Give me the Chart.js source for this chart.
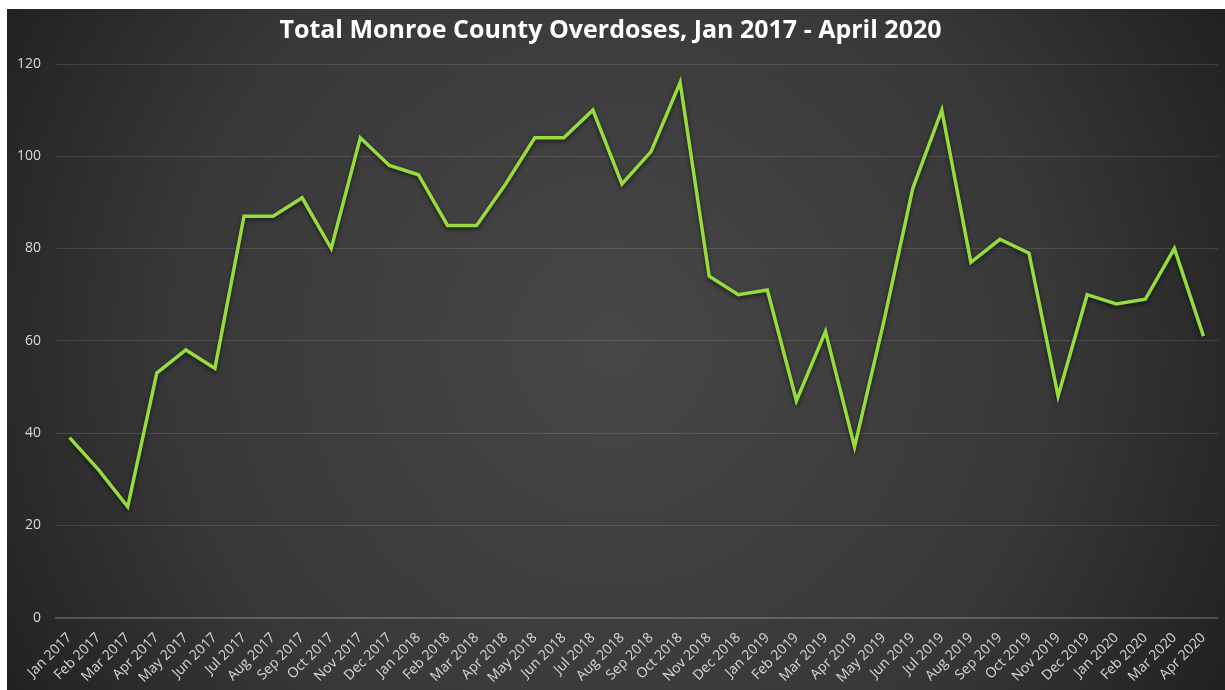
<!DOCTYPE html>
<html>
<head>
<meta charset="utf-8">
<script src="https://cdn.jsdelivr.net/npm/chart.js@4"></script>
<style>
  html, body { margin: 0; padding: 0; background: #ffffff; }
  canvas { display: block; }
</style>
</head>
<body>
<canvas id="odChart" width="1225" height="690"></canvas>
<script>
// Monthly data
const months = [
    "Jan 2017", "Feb 2017", "Mar 2017", "Apr 2017", "May 2017", "Jun 2017",
    "Jul 2017", "Aug 2017", "Sep 2017", "Oct 2017", "Nov 2017", "Dec 2017",
    "Jan 2018", "Feb 2018", "Mar 2018", "Apr 2018", "May 2018", "Jun 2018",
    "Jul 2018", "Aug 2018", "Sep 2018", "Oct 2018", "Nov 2018", "Dec 2018",
    "Jan 2019", "Feb 2019", "Mar 2019", "Apr 2019", "May 2019", "Jun 2019",
    "Jul 2019", "Aug 2019", "Sep 2019", "Oct 2019", "Nov 2019", "Dec 2019",
    "Jan 2020", "Feb 2020", "Mar 2020", "Apr 2020"
];
const overdoses = [
    39, 32, 24, 53, 58, 54,
    87, 87, 91, 80, 104, 98,
    96, 85, 85, 94, 104, 104,
    110, 94, 101, 116, 74, 70,
    71, 47, 62, 37, 64, 93,
    110, 77, 82, 79, 48, 70,
    68, 69, 80, 61
];
const yTicks = [0, 20, 40, 60, 80, 100, 120];

// dark radial background like the Excel chart style (thin white strip top/left as in the screenshot)
const bgPlugin = {
    id: 'bg',
    beforeDraw(chart) {
        const c = chart.ctx;
        const w = chart.width, h = chart.height;
        c.save();
        c.fillStyle = '#ffffff';
        c.fillRect(0, 0, w, h);
        const g = c.createRadialGradient(w * 0.5, h * 0.5, 0, w * 0.5, h * 0.5, w * 0.6);
        g.addColorStop(0, '#474747');
        g.addColorStop(0.6, '#383838');
        g.addColorStop(1, '#1e1e1e');
        c.fillStyle = g;
        c.fillRect(7, 9, w - 7, h - 9);
        c.restore();
    }
};

// soft dark shadow under the line
const shadowPlugin = {
    id: 'lineShadow',
    beforeDatasetsDraw(chart) {
        chart.ctx.save();
        chart.ctx.shadowColor = 'rgba(0,0,0,0.6)';
        chart.ctx.shadowBlur = 4;
        chart.ctx.shadowOffsetY = 2;
    },
    afterDatasetsDraw(chart) {
        chart.ctx.restore();
    }
};

const ctx = document.getElementById('odChart').getContext('2d');
new Chart(ctx, {
    type: 'line',
    data: {
        labels: months,
        datasets: [{
            label: 'Overdoses',
            data: overdoses,
            borderColor: '#96dc3c',
            borderWidth: 3.5,
            pointRadius: 0,
            tension: 0,
            fill: false
        }]
    },
    plugins: [bgPlugin, shadowPlugin],
    options: {
        responsive: false,
        animation: false,
        layout: { padding: { left: 3, right: 7, top: 16, bottom: 0 } },
        plugins: {
            legend: { display: false },
            tooltip: { enabled: false },
            title: {
                display: true,
                text: 'Total Monroe County Overdoses, Jan 2017 - April 2020',
                color: '#ffffff',
                font: { family: 'Open Sans', size: 25, weight: 'bold' },
                padding: { top: 0, bottom: 18 }
            }
        },
        scales: {
            x: {
                offset: true,
                grid: { display: false },
                border: { display: false },
                ticks: {
                    color: '#d9d9d9',
                    font: { family: 'Open Sans', size: 14 },
                    maxRotation: 45,
                    minRotation: 45,
                    autoSkip: false,
                    padding: 4
                }
            },
            y: {
                min: 0,
                max: 120,
                afterBuildTicks(axis) {
                    axis.ticks = yTicks.map(v => ({ value: v }));
                },
                grid: {
                    color: c => c.tick && c.tick.value === 0 ? 'rgba(255,255,255,0.2)' : 'rgba(255,255,255,0.12)',
                    lineWidth: c => c.tick && c.tick.value === 0 ? 2 : 1,
                    drawTicks: false
                },
                border: { display: false },
                ticks: {
                    color: '#d9d9d9',
                    font: { family: 'Open Sans', size: 14 },
                    padding: 14
                }
            }
        }
    }
});
</script>
</body>
</html>
